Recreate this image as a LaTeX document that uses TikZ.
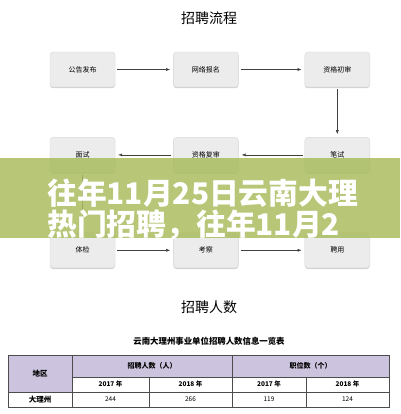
\documentclass[tikz,border=0pt]{standalone}
\usepackage{fontspec}
\setmainfont{Noto Sans CJK SC}
\usetikzlibrary{arrows.meta, positioning, shadows}
\definecolor{boxgray}{RGB}{236,236,236}
\definecolor{bandgreen}{RGB}{170,188,95}
\definecolor{headlav}{RGB}{204,196,222}
\tikzset{
  flowbox/.style={rounded corners=3pt, draw=gray!30, fill=boxgray, minimum width=65pt, minimum height=35pt, font=\fontsize{7}{8}\selectfont, inner sep=1pt,
    drop shadow={shadow xshift=0pt, shadow yshift=-1.2pt, opacity=0.35, fill=gray}},
  flowarrow/.style={-{Latex[length=4pt,width=3pt]}, black!75, line width=0.5pt, shorten >=3pt, shorten <=2pt},
  bigtitle/.style={font=\fontsize{14}{16}\selectfont},
  bandtext/.style={font=\fontsize{29.8}{31}\selectfont\bfseries, text=white, inner sep=0pt},
  tcell/.style={font=\fontsize{6.5}{8}\selectfont},
  tline/.style={draw=black!70, line width=0.6pt},
}
\begin{document}
\begin{tikzpicture}[x=1pt, y=-1pt, node distance=50pt]
  \useasboundingbox (0,0) rectangle (400,414);
  \node[bigtitle] (lctitle) at (209,18) {招聘流程};
  \node[flowbox] (ggfb) at (82.5,69.5) {公告发布};
  \node[flowbox, right=58pt of ggfb] (wlbm) {网络报名};
  \node[flowbox, right=66pt of wlbm] (zgcs) {资格初审};
  \node[flowbox, below=of zgcs] (bishi) {笔试};
  \node[flowbox, below=of wlbm] (zgfs) {资格复审};
  \node[flowbox, below=of ggfb] (mianshi) {面试};
  \node[flowbox, below=60pt of mianshi] (tijian) {体检};
  \node[flowbox, below=60pt of zgfs] (kaocha) {考察};
  \node[flowbox, below=60pt of bishi] (pinyong) {聘用};
  \draw[flowarrow] (ggfb)--(wlbm); \draw[flowarrow] (wlbm)--(zgcs); \draw[flowarrow] (zgcs)--(bishi);
  \draw[flowarrow] (bishi)--(zgfs); \draw[flowarrow] (zgfs)--(mianshi); \draw[flowarrow] (mianshi)--(tijian);
  \draw[flowarrow] (tijian)--(kaocha); \draw[flowarrow] (kaocha)--(pinyong);

  % overlay band
  \fill[bandgreen, opacity=0.85] (0,158) rectangle (400,238);
  \node[bandtext, anchor=west] (hline1) at (47,193) {往年11月25日云南大理};
  \node[bandtext, anchor=west] (hline2) at (47,225) {热门招聘，往年11月2};

  \node[bigtitle] (rstitle) at (209,307) {招聘人数};
  \node[font=\fontsize{8.4}{10}\selectfont\bfseries] (tbcap) at (209,341) {云南大理州事业单位招聘人数信息一览表};

  % table
  \fill[headlav] (8,355) rectangle (389,377);
  \fill[headlav] (8,377) rectangle (72,392);
  \draw[tline] (8,355) rectangle (389,407);
  \draw[tline] (72,377)--(389,377) (8,392)--(389,392);
  \draw[tline] (72,355)--(72,407) (232,355)--(232,407) (149,377)--(149,407) (306,377)--(306,407);
  \node[tcell, font=\fontsize{7.5}{9}\selectfont\bfseries] (diqu) at (40,373.5) {地区};
  \node[tcell, font=\fontsize{7}{8}\selectfont\bfseries] (rshead) at (152,366) {招聘人数（人）};
  \node[tcell, font=\fontsize{7}{8}\selectfont\bfseries] (zwhead) at (310.5,366) {职位数（个）};
  \node[tcell, font=\fontsize{6.5}{8}\selectfont\bfseries] (ya) at (110.5,384.5) {2017 年};
  \node[tcell, font=\fontsize{6.5}{8}\selectfont\bfseries] (yb) at (190.5,384.5) {2018 年};
  \node[tcell, font=\fontsize{6.5}{8}\selectfont\bfseries] (yc) at (269,384.5) {2017 年};
  \node[tcell, font=\fontsize{6.5}{8}\selectfont\bfseries] (yd) at (347.5,384.5) {2018 年};
  \node[tcell, font=\fontsize{7.5}{9}\selectfont\bfseries] (dali) at (40,399.5) {大理州};
  \node[tcell] (va) at (110.5,399.5) {244};
  \node[tcell] (vb) at (190.5,399.5) {266};
  \node[tcell] (vc) at (269,399.5) {119};
  \node[tcell] (vd) at (347.5,399.5) {124};
\end{tikzpicture}
\end{document}
